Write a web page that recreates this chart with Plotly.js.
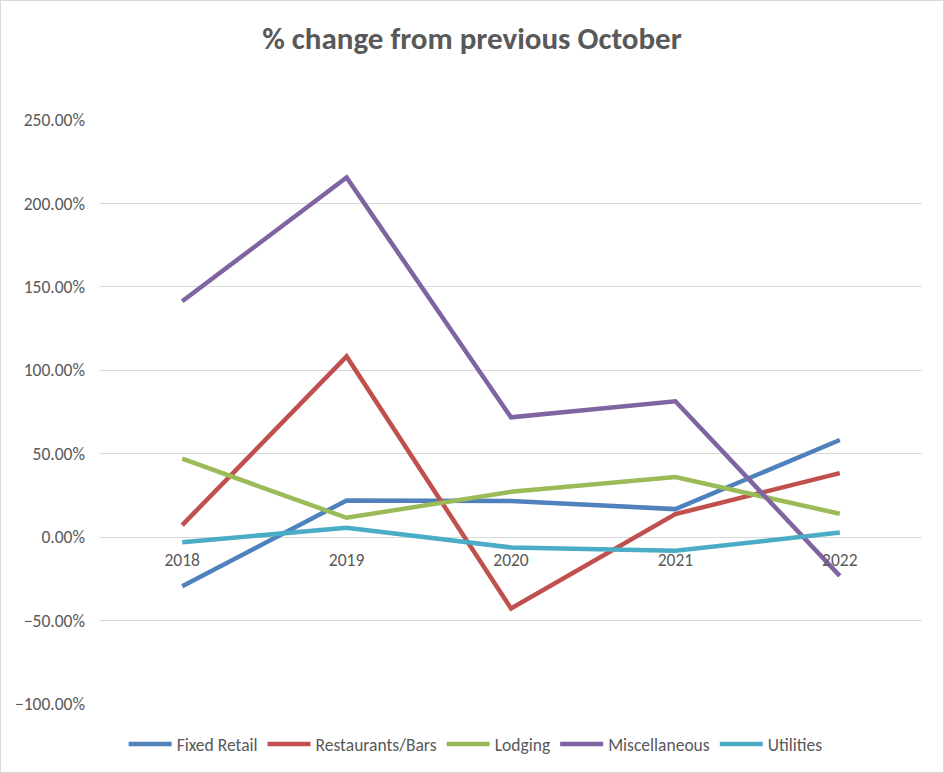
<!DOCTYPE html>
<html>
<head>
<meta charset="utf-8">
<script src="https://cdn.plot.ly/plotly-3.0.1.min.js"></script>
<style>
  html, body { margin: 0; padding: 0; background: #fff; }
  #wrap { position: relative; width: 944px; height: 773px; }
  #chart { position: absolute; left: 0; top: 0; width: 944px; height: 773px; }
  #frame { position: absolute; left: 0; top: 0; width: 942px; height: 771px; border: 1px solid #d9d9d9; pointer-events: none; }
</style>
</head>
<body>
<div id="wrap"><div id="chart"></div><div id="frame"></div></div>
<script>
const years = ['2018', '2019', '2020', '2021', '2022'];
const fixedRetail = [-0.294, 0.220, 0.216, 0.168, 0.582];
const restaurantsBars = [0.072, 1.083, -0.427, 0.138, 0.384];
const lodging = [0.470, 0.116, 0.272, 0.360, 0.140];
const miscellaneous = [1.414, 2.155, 0.718, 0.814, -0.232];
const utilities = [-0.030, 0.056, -0.062, -0.082, 0.028];

const seriesNames = ['Fixed Retail', 'Restaurants/Bars', 'Lodging', 'Miscellaneous', 'Utilities'];
const seriesValues = [fixedRetail, restaurantsBars, lodging, miscellaneous, utilities];
const colors = ['#4F81BD', '#C0504D', '#9BBB59', '#8064A2', '#4BACC6'];

const yTickVals = [-1, -0.5, 0, 0.5, 1, 1.5, 2, 2.5];

const fontFam = 'Carlito, Calibri, "Open Sans", sans-serif';

const traces = seriesNames.map((n, i) => ({
  type: 'scatter',
  mode: 'lines',
  name: n,
  x: years,
  y: seriesValues[i],
  line: { color: colors[i], width: 4.5 },
  hoverinfo: 'x+y+name'
}));

const layout = {
  width: 944,
  height: 773,
  margin: { l: 100, r: 22, t: 120, b: 68 },
  paper_bgcolor: '#ffffff',
  plot_bgcolor: '#ffffff',
  title: {
    text: '<b>% change from previous October</b>',
    x: 0.5, xref: 'container', xanchor: 'center',
    y: 1 - 38 / 773, yref: 'container', yanchor: 'middle',
    font: { family: fontFam, size: 31, color: '#595959' }
  },
  xaxis: {
    type: 'category',
    range: [-0.5, 4.5],
    showgrid: false,
    showline: false,
    zeroline: false,
    ticks: '',
    anchor: 'free',
    position: 1 / 3.5,
    ticklabelstandoff: 10,
    tickfont: { family: fontFam, size: 17.5, color: '#595959' },
    fixedrange: true
  },
  yaxis: {
    range: [-1, 2.5],
    tickvals: yTickVals,
    tickformat: '.2%',
    showgrid: true,
    gridcolor: '#d9d9d9',
    gridwidth: 1,
    zeroline: true,
    zerolinecolor: '#d9d9d9',
    zerolinewidth: 1,
    showline: false,
    ticks: '',
    ticklabelstandoff: 14,
    tickfont: { family: fontFam, size: 17.5, color: '#595959' },
    fixedrange: true
  },
  showlegend: true,
  legend: {
    orientation: 'h',
    x: 0.457, xanchor: 'center',
    y: -0.067, yanchor: 'middle',
    font: { family: fontFam, size: 17.5, color: '#595959' },
    itemwidth: 43,
    bgcolor: 'rgba(0,0,0,0)'
  }
};

Plotly.newPlot('chart', traces, layout, { displayModeBar: false, staticPlot: false });
</script>
</body>
</html>
